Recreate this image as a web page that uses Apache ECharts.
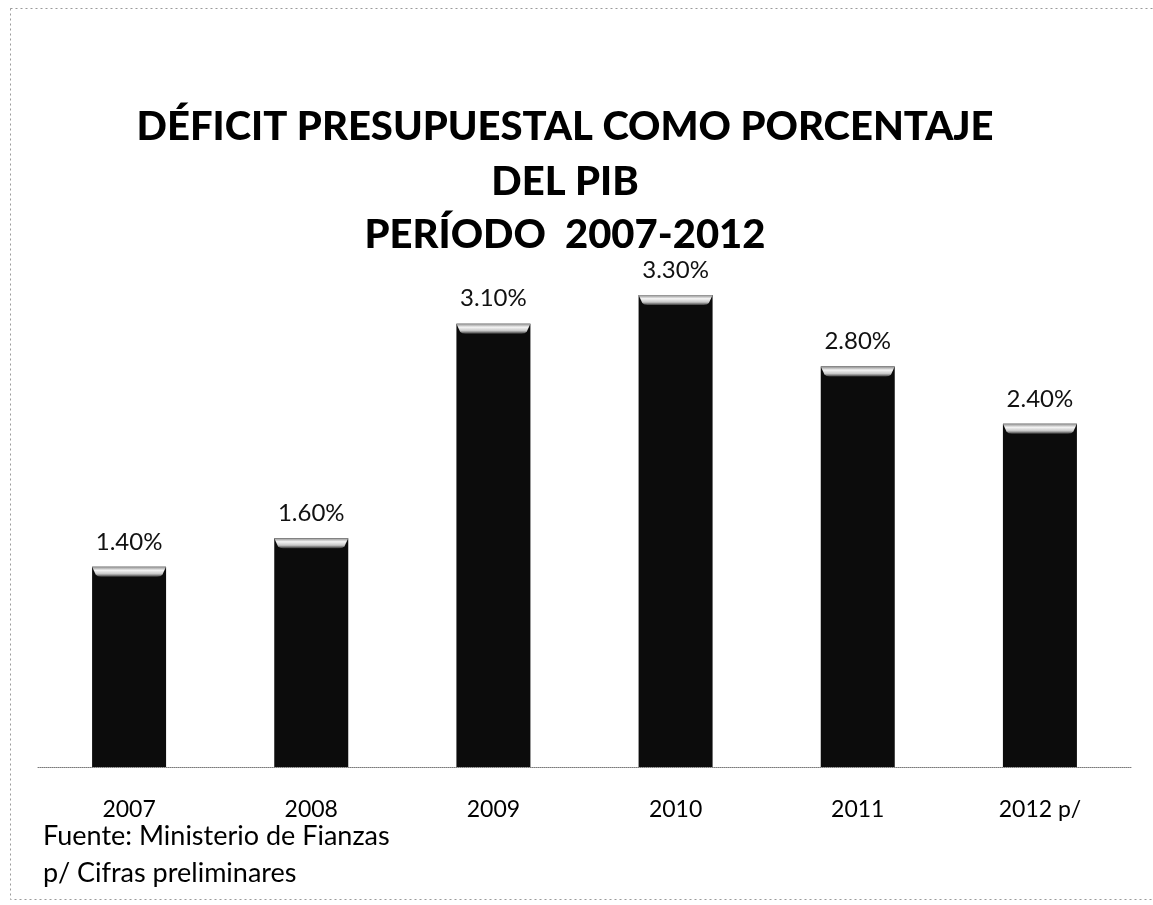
<!DOCTYPE html>
<html>
<head>
<meta charset="utf-8">
<title>Déficit presupuestal como porcentaje del PIB</title>
<script src="https://cdn.jsdelivr.net/npm/echarts@6/dist/echarts.min.js"></script>
<style>
  html, body { margin: 0; padding: 0; background: #ffffff; }
  #chart { width: 1153px; height: 905px; }
</style>
</head>
<body>
<div id="chart"></div>
<script>
// Years shown on the category axis
var years = ['2007', '2008', '2009', '2010', '2011', '2012 p/'];
// Budget deficit as a percentage of GDP
var deficitPct = [1.4, 1.6, 3.1, 3.3, 2.8, 2.4];
// Title lines and footnotes
var titleLines = ['DÉFICIT PRESUPUESTAL COMO PORCENTAJE', 'DEL PIB', 'PERÍODO  2007-2012'];
var notes = ['Fuente: Ministerio de Fianzas', 'p/ Cifras preliminares'];

var FONT = 'Lato, "Open Sans", sans-serif';

var chart = echarts.init(document.getElementById('chart'), null, { renderer: 'canvas' });

var titleY = [127, 182, 235];
var graphics = [
  {
    type: 'rect',
    silent: true,
    shape: { x: 10.5, y: 8.5, width: 1160, height: 891 },
    style: { fill: 'none', stroke: '#9a9a9a', lineWidth: 1, lineDash: [2, 3] }
  }
];
titleLines.forEach(function (t, i) {
  graphics.push({
    type: 'text',
    silent: true,
    style: {
      text: t, x: 565, y: titleY[i],
      align: 'center', verticalAlign: 'middle',
      font: '900 40px ' + FONT, fill: '#000000'
    }
  });
});
notes.forEach(function (t, i) {
  graphics.push({
    type: 'text',
    silent: true,
    style: {
      text: t, x: 43, y: 836 + i * 37,
      align: 'left', verticalAlign: 'middle',
      font: '27px ' + FONT, fill: '#000000'
    }
  });
});

chart.setOption({
  backgroundColor: '#ffffff',
  animation: false,
  grid: { left: 38, right: 22, top: 266.5, bottom: 138, containLabel: false },
  xAxis: {
    type: 'category',
    data: years,
    axisLine: { show: true, lineStyle: { color: '#7a7a7a', width: 1, type: 'dotted' } },
    axisTick: { show: false },
    axisLabel: { color: '#000000', fontFamily: FONT, fontSize: 23, margin: 31 }
  },
  yAxis: {
    type: 'value',
    min: 0,
    max: 3.5,
    show: false,
    splitLine: { show: false }
  },
  series: [
    {
      type: 'bar',
      data: deficitPct,
      barWidth: 74,
      itemStyle: { color: '#0c0c0c' },
      label: {
        show: true,
        position: 'top',
        distance: 13,
        color: '#111111',
        fontFamily: FONT,
        fontSize: 24,
        formatter: function (p) { return p.value.toFixed(2) + '%'; }
      },
      z: 2
    },
    {
      // bevelled highlight along the top edge of each bar
      type: 'pictorialBar',
      data: deficitPct,
      barGap: '-100%',
      symbol: 'path://M0,0 L100,0 L95,80 Q93,100 88,100 L12,100 Q7,100 5,80 Z',
      symbolSize: [74, 10],
      symbolPosition: 'end',
      symbolOffset: [0, 0],
      itemStyle: {
        color: {
          type: 'linear', x: 0, y: 0, x2: 0, y2: 1,
          colorStops: [
            { offset: 0, color: '#8c8c8c' },
            { offset: 0.35, color: '#f4f4f4' },
            { offset: 0.7, color: '#c8c8c8' },
            { offset: 1, color: '#3a3a3a' }
          ]
        }
      },
      silent: true,
      z: 3
    }
  ],
  graphic: graphics
});
</script>
</body>
</html>
